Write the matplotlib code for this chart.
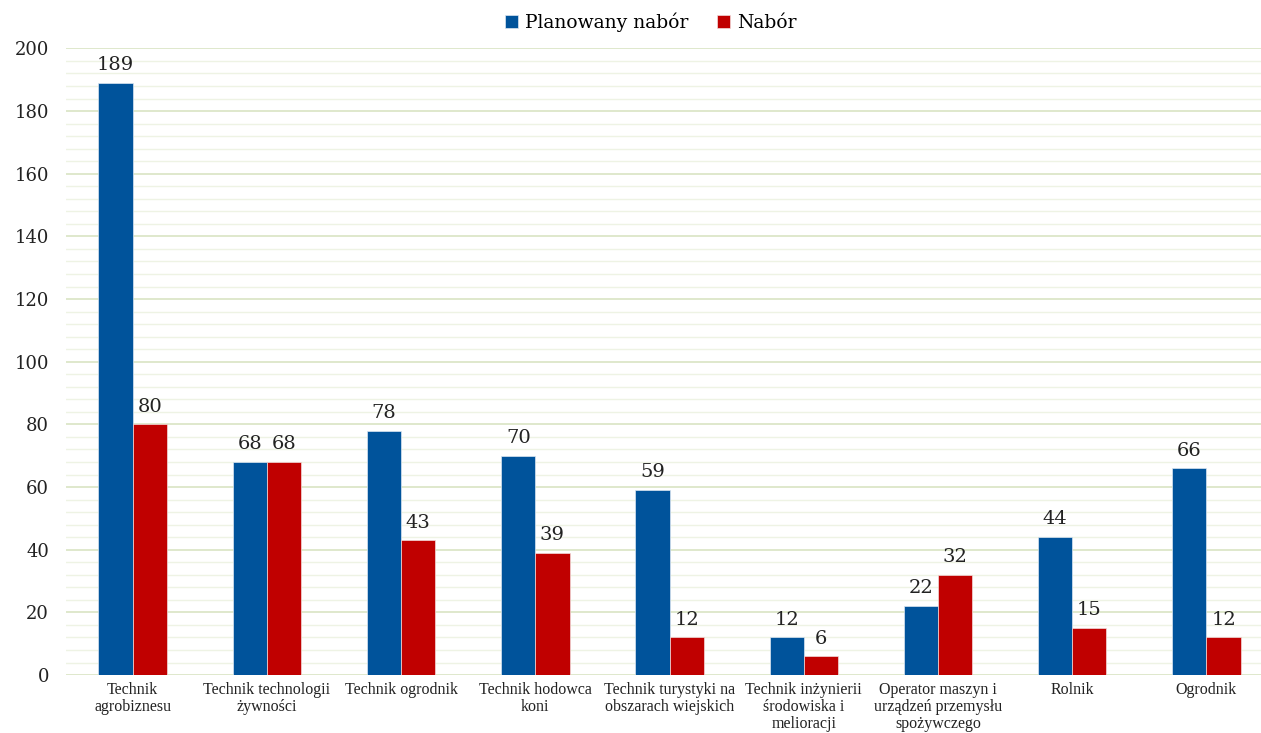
import numpy as np
import matplotlib.pyplot as plt
from matplotlib.ticker import MultipleLocator

plt.rcParams['font.family'] = ['DejaVu Serif']

kierunki = [
    "Technik\nagrobiznesu",
    "Technik technologii\nżywności",
    "Technik ogrodnik",
    "Technik hodowca\nkoni",
    "Technik turystyki na\nobszarach wiejskich",
    "Technik inżynierii\nśrodowiska i\nmelioracji",
    "Operator maszyn i\nurządzeń przemysłu\nspożywczego",
    "Rolnik",
    "Ogrodnik",
]
planowany = [189, 68, 78, 70, 59, 12, 22, 44, 66]
nabor = [80, 68, 43, 39, 12, 6, 32, 15, 12]

kolor_plan = "#00539b"
kolor_nabor = "#c00000"

fig = plt.figure(figsize=(12.61, 7.33), dpi=100)
# the plot area runs slightly past the right edge of the figure
ax = fig.add_axes([0.052, 0.079, 0.958, 0.855])

x = np.arange(len(kierunki))
w = 0.255
b1 = ax.bar(x - w / 2, planowany, w, color=kolor_plan, edgecolor="#dce6f2",
            linewidth=0.5, label="Planowany nabór", zorder=3)
b2 = ax.bar(x + w / 2, nabor, w, color=kolor_nabor, edgecolor="#f2dcdc",
            linewidth=0.5, label="Nabór", zorder=3)

for bars in (b1, b2):
    for r in bars:
        ax.text(r.get_x() + r.get_width() / 2, r.get_height() + 2.8,
                f"{int(r.get_height())}", ha="center", va="bottom",
                fontsize=14, color="#222222")

ax.set_xlim(-0.5, len(kierunki) - 0.5)
ax.set_ylim(0, 200)
ax.yaxis.set_major_locator(MultipleLocator(20))
ax.yaxis.set_minor_locator(MultipleLocator(4))
ax.grid(axis="y", which="major", color="#dce6c8", linewidth=1.3, zorder=0)
ax.grid(axis="y", which="minor", color="#eef3e4", linewidth=1.0, zorder=0)
ax.set_axisbelow(True)

ax.set_xticks(x)
ax.set_xticklabels(kierunki, fontsize=11.5, color="#222222", linespacing=1.1,
                   family="Liberation Serif")
ax.tick_params(axis="x", length=0, pad=5)
ax.tick_params(axis="y", which="both", length=0, pad=12, labelsize=13,
               labelcolor="#222222")

for s in ax.spines.values():
    s.set_visible(False)

fig.legend(handles=[b1, b2], loc="upper center", bbox_to_anchor=(0.516, 1.006),
           ncol=2, frameon=False, fontsize=13.5, handlelength=0.7,
           handleheight=0.7, handletextpad=0.4, columnspacing=1.5)

fig.savefig("out.png", dpi=100, facecolor="white")
